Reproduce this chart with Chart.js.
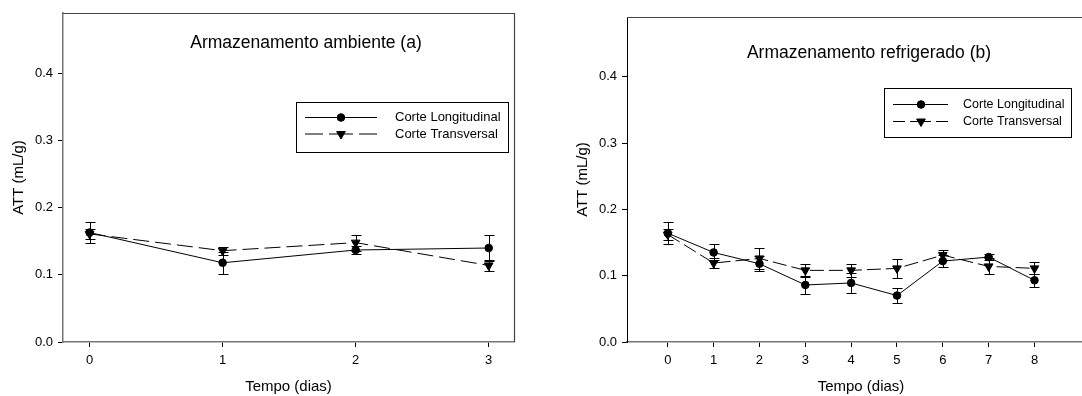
<!DOCTYPE html>
<html>
<head>
<meta charset="utf-8">
<script src="https://cdn.jsdelivr.net/npm/chart.js@4.4.1/dist/chart.umd.min.js"></script>
<style>
html, body { margin: 0; padding: 0; background: #fff; overflow: hidden; }
#wrap { position: relative; width: 1082px; height: 396px; overflow: hidden; }
canvas { position: absolute; top: 0; }
#chartA { left: 0; }
#chartB { left: 541px; }
</style>
</head>
<body>
<div id="wrap">
  <canvas id="chartA" width="541" height="396"></canvas>
  <canvas id="chartB" width="560" height="396"></canvas>
</div>
<script>
// Panel (a) - ambient storage
const daysA = [0, 1, 2, 3];
const longA = [0.163, 0.118, 0.137, 0.140];
const longAErr = [0.016, 0.016, 0.006, 0.019];
const transA = [0.161, 0.136, 0.148, 0.114];
const transAErr = [0.008, 0.006, 0.012, 0.008];

// Panel (b) - refrigerated storage
const daysB = [0, 1, 2, 3, 4, 5, 6, 7, 8];
const longB = [0.164, 0.135, 0.118, 0.086, 0.089, 0.070, 0.122, 0.128, 0.093];
const longBErr = [0.017, 0.012, 0.011, 0.014, 0.015, 0.011, 0.009, 0.005, 0.010];
const transB = [0.162, 0.119, 0.126, 0.108, 0.108, 0.111, 0.131, 0.114, 0.111];
const transBErr = [0.008, 0.007, 0.016, 0.010, 0.010, 0.014, 0.007, 0.012, 0.009];

const yTicks = [0, 0.1, 0.2, 0.3, 0.4];
const labelLong = 'Corte Longitudinal';
const labelTrans = 'Corte Transversal';

const FONT = "'Liberation Sans', Arial, sans-serif";

function points(xs, ys) {
    return xs.map((x, i) => ({ x: x, y: ys[i] }));
}

// vertical error bars with caps, drawn through the scales
const errorBars = {
    id: 'errorBars',
    beforeDatasetsDraw(chart) {
        const ctx = chart.ctx;
        const xs = chart.scales.x, ys = chart.scales.y;
        chart.data.datasets.forEach(ds => {
            if (!ds.errors) return;
            ctx.save();
            ctx.strokeStyle = '#000';
            ctx.lineWidth = 1;
            ds.data.forEach((p, i) => {
                const e = ds.errors[i];
                const px = Math.round(xs.getPixelForValue(p.x)) + 0.5;
                const top = Math.round(ys.getPixelForValue(p.y + e)) + 0.5;
                const bot = Math.round(ys.getPixelForValue(p.y - e)) + 0.5;
                ctx.beginPath();
                ctx.moveTo(px, top); ctx.lineTo(px, bot);
                ctx.moveTo(px - 5, top); ctx.lineTo(px + 5, top);
                ctx.moveTo(px - 5, bot); ctx.lineTo(px + 5, bot);
                ctx.stroke();
            });
            ctx.restore();
        });
    }
};

// top and right frame lines, title and boxed legend inside the plot
const panel = {
    id: 'panel',
    afterDraw(chart, args, o) {
        const ctx = chart.ctx;
        const a = chart.chartArea;
        ctx.save();
        ctx.strokeStyle = o.frameColor;
        ctx.lineWidth = 1.2;
        ctx.beginPath();
        ctx.moveTo(a.left, a.top + 0.5);
        ctx.lineTo(a.right + 0.5, a.top + 0.5);
        ctx.lineTo(a.right + 0.5, a.bottom);
        ctx.stroke();

        ctx.fillStyle = '#000';
        ctx.font = o.titleFont + 'px ' + FONT;
        ctx.textAlign = 'center';
        ctx.textBaseline = 'middle';
        ctx.fillText(o.title, o.titleX, o.titleY);

        // legend box
        const b = o.box;
        ctx.strokeStyle = '#000';
        ctx.lineWidth = 1;
        ctx.strokeRect(b[0] + 0.5, b[1] + 0.5, b[2] - b[0], b[3] - b[1]);
        ctx.font = o.legendFont + 'px ' + FONT;
        ctx.textAlign = 'left';
        chart.data.datasets.forEach((ds, i) => {
            const y = o.rows[i];
            ctx.strokeStyle = '#000';
            ctx.lineWidth = 1;
            ctx.setLineDash(ds.borderDash ? o.legendDash : []);
            ctx.beginPath();
            ctx.moveTo(o.sample[0], y); ctx.lineTo(o.markX, y);
            ctx.stroke();
            ctx.beginPath();
            ctx.moveTo(o.sample[1], y); ctx.lineTo(o.markX, y);
            ctx.stroke();
            ctx.setLineDash([]);
            ctx.fillStyle = '#000';
            Chart.helpers.drawPoint(ctx, {
                pointStyle: ds.pointStyle,
                rotation: ds.pointRotation || 0,
                radius: ds.pointRadius,
                borderWidth: 1
            }, o.markX, y);
            ctx.fillStyle = '#000';
            ctx.fillText(ds.label, o.textX, y);
        });
        ctx.restore();
    }
};

function makeDatasets(xs, l, lErr, t, tErr, dash) {
    return [{
        label: labelLong,
        data: points(xs, l),
        errors: lErr,
        borderColor: '#000',
        backgroundColor: '#000',
        borderWidth: 1,
        pointStyle: 'circle',
        pointRadius: 3.8,
        pointBorderWidth: 1,
        pointBackgroundColor: '#000',
        pointBorderColor: '#000'
    }, {
        label: labelTrans,
        data: points(xs, t),
        errors: tErr,
        borderColor: '#000',
        backgroundColor: '#000',
        borderWidth: 1,
        borderDash: dash,
        pointStyle: 'triangle',
        pointRotation: 180,
        pointRadius: 5,
        pointBorderWidth: 1,
        pointBackgroundColor: '#000',
        pointBorderColor: '#000'
    }];
}

function makeOptions(cfg) {
    return {
        responsive: false,
        animation: false,
        layout: { padding: cfg.padding },
        plugins: {
            legend: { display: false },
            tooltip: { enabled: false },
            panel: cfg.panel
        },
        scales: {
            x: {
                type: 'linear',
                min: cfg.xMin,
                max: cfg.xMax,
                afterBuildTicks: s => { s.ticks = cfg.xTicks.map(v => ({ value: v })); },
                afterFit: s => { s.height = 54; },
                grid: { drawOnChartArea: false, drawTicks: true, tickLength: 5, tickColor: '#000' },
                border: { display: true, color: cfg.xAxisColor, width: 1.5 },
                ticks: { color: '#000', padding: 6, font: { family: FONT, size: 13 }, maxRotation: 0 },
                title: { display: true, text: 'Tempo (dias)', color: '#000', padding: { top: 0, bottom: 0 }, font: { family: FONT, size: 15 } }
            },
            y: {
                min: 0,
                max: cfg.yMax,
                afterBuildTicks: s => { s.ticks = yTicks.map(v => ({ value: v })); },
                afterFit: s => { s.width = 63; },
                grid: { drawOnChartArea: false, drawTicks: true, tickLength: 5, tickColor: '#000' },
                border: { display: true, color: cfg.yAxisColor, width: cfg.yAxisWidth },
                ticks: { color: '#000', padding: 5, font: { family: FONT, size: 13 }, callback: v => v.toFixed(1) },
                title: { display: true, text: 'ATT (mL/g)', color: '#000', padding: { top: 10, bottom: 0 }, font: { family: FONT, size: 15 } }
            }
        }
    };
}

new Chart(document.getElementById('chartA'), {
    type: 'line',
    data: { datasets: makeDatasets(daysA, longA, longAErr, transA, transAErr, [16, 6]) },
    options: makeOptions({
        padding: { left: 0, right: 27, top: 13, bottom: 0 },
        xMin: -0.2, xMax: 3.19, xTicks: daysA,
        yMax: 0.49,
        xAxisColor: '#777', yAxisColor: '#777', yAxisWidth: 1.5,
        panel: {
            frameColor: '#444',
            title: 'Armazenamento ambiente (a)', titleX: 306, titleY: 43, titleFont: 17.5,
            box: [296, 102, 508, 152],
            rows: [117.5, 134],
            sample: [305, 377], markX: 341, textX: 395,
            legendFont: 13, legendDash: [18, 6]
        }
    }),
    plugins: [errorBars, panel]
});

new Chart(document.getElementById('chartB'), {
    type: 'line',
    data: { datasets: makeDatasets(daysB, longB, longBErr, transB, transBErr, [14, 5]) },
    options: makeOptions({
        padding: { left: 23, right: 5, top: 17, bottom: 0 },
        xMin: -0.89, xMax: 9.32, xTicks: daysB,
        yMax: 0.49,
        xAxisColor: '#777', yAxisColor: '#000', yAxisWidth: 1,
        panel: {
            frameColor: '#444',
            title: 'Armazenamento refrigerado (b)', titleX: 328, titleY: 53, titleFont: 17.5,
            box: [343, 88, 530, 137],
            rows: [104.5, 121.5],
            sample: [352, 407], markX: 380, textX: 422,
            legendFont: 12.5, legendDash: [12, 5]
        }
    }),
    plugins: [errorBars, panel]
});
</script>
</body>
</html>
